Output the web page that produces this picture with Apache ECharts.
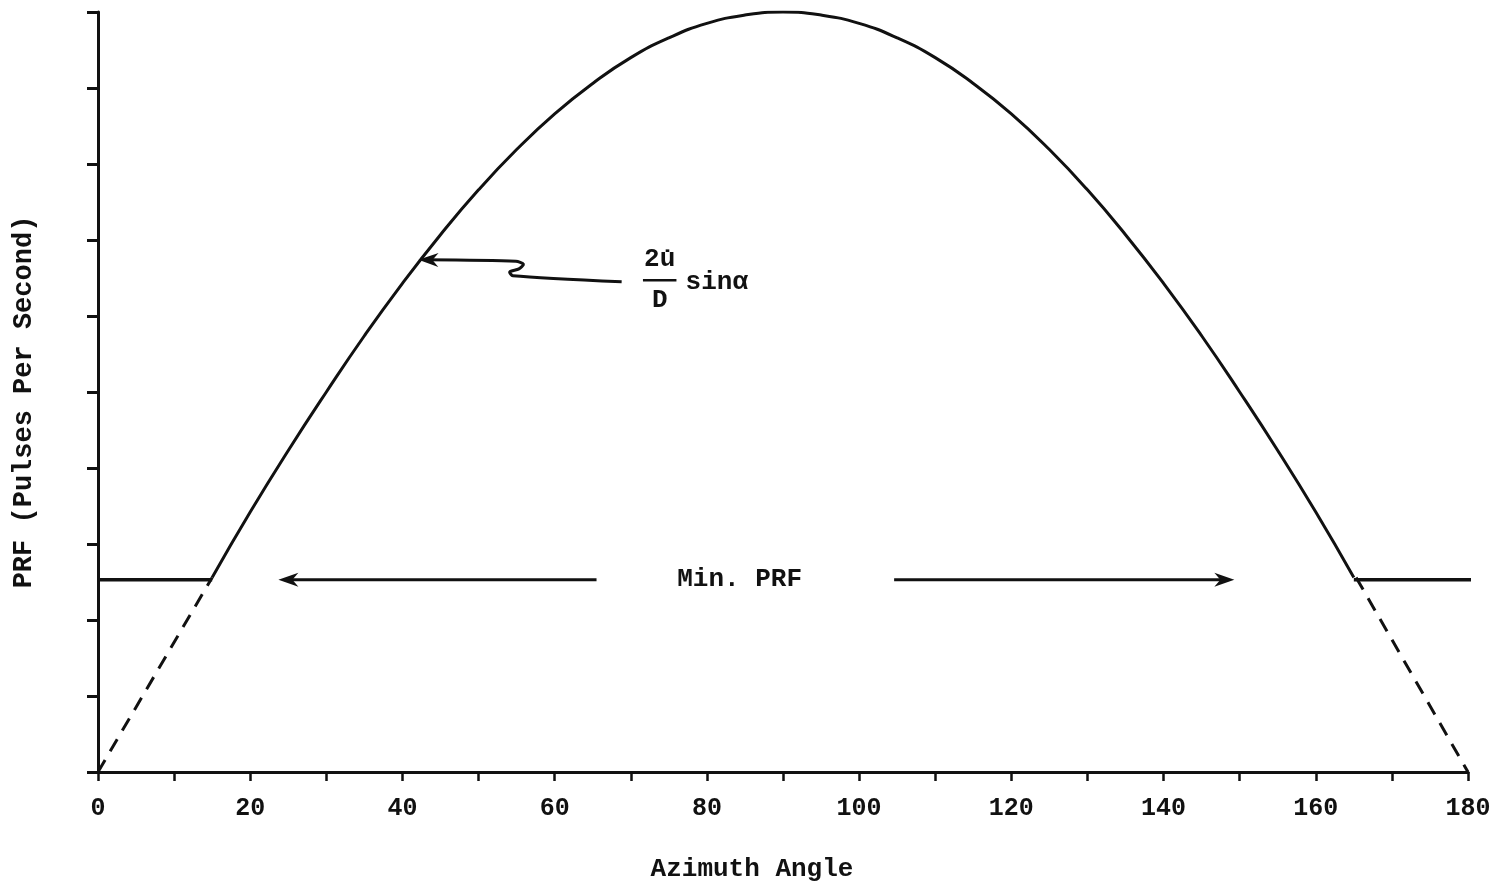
<!DOCTYPE html>
<html><head><meta charset="utf-8">
<script src="https://cdn.jsdelivr.net/npm/echarts@6/dist/echarts.min.js"></script>
<style>html,body{margin:0;padding:0;background:#fff}#c{width:1505px;height:891px}</style>
</head><body><div id="c"></div>
<script>
// ---- data ----
const xMin = 0, xMax = 180, xStep = 10, xLabelStep = 20;
const yMin = 0, yMax = 10, yStep = 1;
const curveAngles = [15,20,25,30,35,40,45,50,55,60,65,70,75,80,85,90,95,100,105,110,115,120,125,130,135,140,145,150,155,160,165];
const curveValues = [2.56,3.42,4.23,5.00,5.74,6.43,7.07,7.66,8.19,8.66,9.06,9.40,9.66,9.85,9.96,10.00,9.96,9.85,9.66,9.40,9.06,8.66,8.19,7.66,7.07,6.43,5.74,5.00,4.23,3.42,2.56];
const minPRF = 2.53;
const minLeftAngles = [0, 15];
const minRightAngles = [165, 181];
const dashLeftAngles = [0, 15];
const dashLeftValues = [0, 2.56];
const dashRightAngles = [165.3, 180];
const dashRightValues = [2.56, 0];
// annotation: squiggly arrow pointing at the curve (tip first)
const squiggleAngles = [42.1, 54.9, 55.9, 55.3, 54.1, 54.5, 68.8];
const squiggleValues = [6.74, 6.72, 6.68, 6.62, 6.58, 6.53, 6.45];
// Min. PRF arrows (tip first)
const minArrowLeft = [[23.7, 2.53], [65.5, 2.53]];
const minArrowRight = [[149.3, 2.53], [104.6, 2.53]];
const minLabel = {text: 'Min. PRF', x: 84.3, y: 2.53};
const fracTop = {text: '2u\u0307', x: 73.8, y: 6.74};
const fracBottom = {text: 'D', x: 73.8, y: 6.21};
const fracBar = [[71.6, 6.47], [76.0, 6.47]];
const sinLabel = {text: 'sin\u03B1', x: 77.2, y: 6.44};
const xAxisName = 'Azimuth Angle';
const yAxisName = 'PRF (Pulses Per Second)';

const FONT = '"Liberation Mono", "Courier New", monospace';
const BLACK = '#111';

const zip = (a, b) => a.map((v, i) => [v, b[i]]);

const annotations = [
  {type: 'arrow', pts: zip(squiggleAngles, squiggleValues), smooth: 0.25},
  {type: 'arrow', pts: minArrowLeft},
  {type: 'arrow', pts: minArrowRight},
  {type: 'text', item: minLabel, align: 'center'},
  {type: 'text', item: fracTop, align: 'center'},
  {type: 'text', item: fracBottom, align: 'center'},
  {type: 'line', pts: fracBar, width: 2.5},
  {type: 'text', item: sinLabel, align: 'left'}
];

function renderAnno(params, api) {
  const a = annotations[params.dataIndex];
  if (a.type === 'arrow') {
    const pts = a.pts.map(p => api.coord(p));
    const tip = pts[0], prev = pts[1];
    const ang = Math.atan2(prev[1] - tip[1], prev[0] - tip[0]);
    const L = 20, W = 7;
    const c = Math.cos(ang), s = Math.sin(ang);
    const head = [
      tip,
      [tip[0] + L * c - W * s, tip[1] + L * s + W * c],
      [tip[0] + L * 0.7 * c, tip[1] + L * 0.7 * s],
      [tip[0] + L * c + W * s, tip[1] + L * s - W * c]
    ];
    const linePts = pts.slice();
    linePts[0] = [tip[0] + 6 * c, tip[1] + 6 * s];
    return {type: 'group', children: [
      {type: 'polyline', shape: {points: linePts, smooth: a.smooth || 0}, style: {stroke: BLACK, lineWidth: 3, fill: null}},
      {type: 'polygon', shape: {points: head}, style: {fill: BLACK}}
    ]};
  }
  if (a.type === 'line') {
    const pts = a.pts.map(p => api.coord(p));
    return {type: 'polyline', shape: {points: pts}, style: {stroke: BLACK, lineWidth: a.width, fill: null}};
  }
  const p = api.coord([a.item.x, a.item.y]);
  return {type: 'text', x: p[0], y: p[1], style: {text: a.item.text, font: 'bold 26px ' + FONT, fill: BLACK, align: a.align, verticalAlign: 'middle'}};
}

const chart = echarts.init(document.getElementById('c'));
chart.setOption({
  animation: false,
  backgroundColor: '#fff',
  grid: {left: 98, right: 37, top: 12, bottom: 119, containLabel: false},
  xAxis: {
    type: 'value', min: xMin, max: xMax, interval: xStep,
    name: xAxisName, nameLocation: 'middle', nameGap: 84,
    nameTextStyle: {fontFamily: FONT, fontSize: 26, fontWeight: 'bold', color: BLACK, padding: [0, 62, 0, 0]},
    axisLine: {show: true, onZero: false, lineStyle: {color: BLACK, width: 3}},
    axisTick: {show: true, length: 9, lineStyle: {color: BLACK, width: 2.5}},
    axisLabel: {formatter: v => (v % xLabelStep === 0 ? String(v) : ''), fontFamily: FONT, fontSize: 25, fontWeight: 'bold', color: BLACK, margin: 24},
    splitLine: {show: false}
  },
  yAxis: {
    type: 'value', min: yMin, max: yMax, interval: yStep,
    name: yAxisName, nameLocation: 'middle', nameGap: 60, nameRotate: 90,
    nameTextStyle: {fontFamily: FONT, fontSize: 27, fontWeight: 'bold', color: BLACK, padding: [0, 20, 0, 0]},
    axisLine: {show: true, onZero: false, lineStyle: {color: BLACK, width: 3}},
    axisTick: {show: true, length: 11, lineStyle: {color: BLACK, width: 3}},
    axisLabel: {show: false},
    splitLine: {show: false}
  },
  series: [
    {type: 'line', data: zip(curveAngles, curveValues), smooth: true, symbol: 'none', lineStyle: {color: BLACK, width: 3}},
    {type: 'line', data: zip(minLeftAngles, [minPRF, minPRF]), symbol: 'none', lineStyle: {color: BLACK, width: 3.5}},
    {type: 'line', data: zip(minRightAngles, [minPRF, minPRF]), symbol: 'none', clip: false, lineStyle: {color: BLACK, width: 3.5}},
    {type: 'line', data: zip(dashLeftAngles, dashLeftValues), symbol: 'none', lineStyle: {color: BLACK, width: 3, type: [14, 10]}},
    {type: 'line', data: zip(dashRightAngles, dashRightValues), symbol: 'none', lineStyle: {color: BLACK, width: 3, type: [14, 10]}},
    {type: 'custom', renderItem: renderAnno, clip: false,
     data: annotations.map(a => a.item ? [a.item.x, a.item.y] : a.pts[0])}
  ]
});
</script>
</body></html>
